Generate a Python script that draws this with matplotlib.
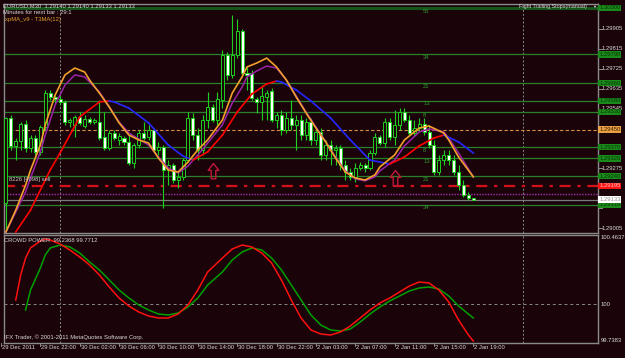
'''
Fun: redraw the EURUSD M30 chart with the crowd power window
'''

import numpy as np
import matplotlib
matplotlib.use('Agg')
import matplotlib.pyplot as plt
from matplotlib.path import Path

## candles, bar 0 = 29 Dec 18:00, bar 96 = 2 Jan 19:00
opens = [1.29109, 1.29118, 1.29502, 1.29376, 1.29398, 1.29475, 1.29367, 1.29412, 1.29349, 1.29462,
	1.29615, 1.29597, 1.29588, 1.29575, 1.29484, 1.29471, 1.29507, 1.29466, 1.29498, 1.29484,
	1.29484, 1.29416, 1.29367, 1.29434, 1.29403, 1.29412, 1.29394, 1.29299, 1.29380, 1.29434,
	1.29416, 1.29448, 1.29358, 1.29371, 1.29267, 1.29290, 1.29222, 1.29236, 1.29312, 1.29502,
	1.29425, 1.29358, 1.29493, 1.29552, 1.29493, 1.29584, 1.29787, 1.29697, 1.29787, 1.29895,
	1.29706, 1.29706, 1.29588, 1.29575, 1.29597, 1.29624, 1.29493, 1.29516, 1.29448, 1.29502,
	1.29471, 1.29493, 1.29425, 1.29484, 1.29403, 1.29439, 1.29335, 1.29380, 1.29358, 1.29367,
	1.29290, 1.29258, 1.29236, 1.29276, 1.29290, 1.29276, 1.29344, 1.29416, 1.29389, 1.29484,
	1.29416, 1.29471, 1.29529, 1.29493, 1.29434, 1.29457, 1.29475, 1.29439, 1.29380, 1.29258,
	1.29312, 1.29335, 1.29312, 1.29258, 1.29199, 1.29154, 1.29140]
highs = [1.29245, 1.29507, 1.29516, 1.29412, 1.29484, 1.29493, 1.29425, 1.29425, 1.29471, 1.29629,
	1.29629, 1.29606, 1.29606, 1.29584, 1.29502, 1.29516, 1.29529, 1.29516, 1.29507, 1.29502,
	1.29584, 1.29529, 1.29448, 1.29448, 1.29434, 1.29421, 1.29425, 1.29389, 1.29448, 1.29484,
	1.29471, 1.29457, 1.29394, 1.29380, 1.29312, 1.29299, 1.29258, 1.29321, 1.29529, 1.29525,
	1.29457, 1.29516, 1.29620, 1.29565, 1.29620, 1.29810, 1.29801, 1.29968, 1.29950, 1.29904,
	1.29733, 1.29719, 1.29597, 1.29651, 1.29629, 1.29638, 1.29529, 1.29538, 1.29529, 1.29584,
	1.29516, 1.29516, 1.29502, 1.29502, 1.29457, 1.29457, 1.29403, 1.29403, 1.29380, 1.29380,
	1.29312, 1.29276, 1.29299, 1.29303, 1.29299, 1.29358, 1.29434, 1.29425, 1.29502, 1.29502,
	1.29538, 1.29547, 1.29547, 1.29516, 1.29493, 1.29502, 1.29502, 1.29471, 1.29403, 1.29335,
	1.29358, 1.29358, 1.29335, 1.29290, 1.29222, 1.29168, 1.29140]
lows = [1.28987, 1.28996, 1.29358, 1.29312, 1.29358, 1.29349, 1.29349, 1.29335, 1.29335, 1.29448,
	1.29584, 1.29565, 1.29561, 1.29471, 1.29462, 1.29416, 1.29471, 1.29457, 1.29475, 1.29475,
	1.29403, 1.29358, 1.29358, 1.29403, 1.29380, 1.29380, 1.29290, 1.29276, 1.29367, 1.29403,
	1.29403, 1.29349, 1.29335, 1.29095, 1.29199, 1.29208, 1.29186, 1.29222, 1.29303, 1.29403,
	1.29312, 1.29335, 1.29457, 1.29484, 1.29471, 1.29547, 1.29674, 1.29683, 1.29773, 1.29697,
	1.29629, 1.29584, 1.29525, 1.29493, 1.29493, 1.29484, 1.29457, 1.29425, 1.29434, 1.29448,
	1.29358, 1.29403, 1.29403, 1.29380, 1.29380, 1.29312, 1.29312, 1.29290, 1.29290, 1.29267,
	1.29222, 1.29222, 1.29213, 1.29267, 1.29258, 1.29267, 1.29335, 1.29380, 1.29371, 1.29403,
	1.29380, 1.29448, 1.29484, 1.29425, 1.29421, 1.29439, 1.29425, 1.29367, 1.29245, 1.29245,
	1.29290, 1.29290, 1.29245, 1.29177, 1.29145, 1.29132, 1.29133]
closes = [1.29222, 1.29502, 1.29376, 1.29398, 1.29475, 1.29367, 1.29412, 1.29349, 1.29462, 1.29615,
	1.29597, 1.29588, 1.29575, 1.29484, 1.29493, 1.29507, 1.29480, 1.29498, 1.29484, 1.29493,
	1.29412, 1.29367, 1.29434, 1.29412, 1.29421, 1.29394, 1.29299, 1.29380, 1.29434, 1.29412,
	1.29448, 1.29358, 1.29371, 1.29267, 1.29290, 1.29222, 1.29236, 1.29312, 1.29502, 1.29425,
	1.29358, 1.29493, 1.29552, 1.29493, 1.29588, 1.29787, 1.29697, 1.29787, 1.29895, 1.29706,
	1.29697, 1.29593, 1.29575, 1.29602, 1.29615, 1.29493, 1.29516, 1.29448, 1.29502, 1.29471,
	1.29493, 1.29425, 1.29484, 1.29403, 1.29439, 1.29335, 1.29380, 1.29358, 1.29367, 1.29290,
	1.29258, 1.29236, 1.29276, 1.29290, 1.29276, 1.29344, 1.29416, 1.29389, 1.29484, 1.29416,
	1.29471, 1.29529, 1.29493, 1.29434, 1.29457, 1.29475, 1.29439, 1.29380, 1.29258, 1.29312,
	1.29335, 1.29312, 1.29258, 1.29199, 1.29154, 1.29141, 1.29133]

## moving averages (bar index, value)
fast_bars = [1, 3, 5, 6, 8, 9, 11, 13, 15, 17, 18, 20, 22, 24, 26, 28, 30, 32, 34, 36,
	38, 40, 42, 45, 47, 49, 50, 52, 54, 56, 58, 60, 62, 64, 66, 68, 70, 72, 74, 76,
	77, 80, 82, 85, 87, 90, 91, 93, 96]
fast_ma = [1.28987, 1.29086, 1.29199, 1.29267, 1.29380, 1.29471, 1.29606, 1.29697, 1.29728, 1.29710,
	1.29674, 1.29615, 1.29552, 1.29480, 1.29425, 1.29403, 1.29389, 1.29321, 1.29267, 1.29258,
	1.29303, 1.29358, 1.29403, 1.29493, 1.29615, 1.29688, 1.29733, 1.29751, 1.29773, 1.29733,
	1.29674, 1.29597, 1.29525, 1.29457, 1.29394, 1.29321, 1.29258, 1.29231, 1.29222, 1.29245,
	1.29281, 1.29335, 1.29403, 1.29457, 1.29466, 1.29434, 1.29403, 1.29326, 1.29236]
mid_ma = [1.28987, 1.29077, 1.29168, 1.29231, 1.29349, 1.29425, 1.29561, 1.29651, 1.29697, 1.29688,
	1.29665, 1.29620, 1.29552, 1.29484, 1.29434, 1.29407, 1.29380, 1.29326, 1.29276, 1.29254,
	1.29285, 1.29335, 1.29389, 1.29471, 1.29570, 1.29642, 1.29688, 1.29715, 1.29737, 1.29728,
	1.29674, 1.29602, 1.29529, 1.29462, 1.29394, 1.29326, 1.29263, 1.29227, 1.29218, 1.29236,
	1.29263, 1.29312, 1.29376, 1.29439, 1.29453, 1.29439, 1.29412, 1.29344, 1.29236]
slow_bars = [3, 6, 10, 12, 16, 20, 22, 23, 26, 30, 34, 37, 39, 42, 45, 48, 51, 54, 56, 57,
	60, 63, 67, 71, 75, 79, 82, 85, 88, 90, 93, 96]
slow_ma = [1.28987, 1.29086, 1.29267, 1.29344, 1.29507, 1.29575, 1.29579, 1.29575, 1.29547, 1.29480,
	1.29380, 1.29330, 1.29312, 1.29349, 1.29425, 1.29529, 1.29611, 1.29656, 1.29669, 1.29665,
	1.29629, 1.29579, 1.29502, 1.29403, 1.29312, 1.29294, 1.29326, 1.29376, 1.29412, 1.29425,
	1.29394, 1.29344]

## trailing stop levels
entry = 1.29450
fib_pips = [55, 34, 21, 13, 8]
stop_line = 1.29195
dot_line = 1.29159
bid = 1.29133
arrow_bars = [43, 80]
arrow_price = [1.29299, 1.29267]
price_ticks = [1.29005, 1.29095, 1.29185, 1.29275, 1.29365, 1.29455, 1.29545, 1.29635, 1.29725, 1.29815, 1.29905]

## crowd power window
cp_bars = [3, 4, 5, 6, 8, 9, 10, 12, 14, 16, 18, 20, 22, 24, 26, 28, 30, 32, 34, 36,
	38, 40, 42, 45, 47, 49, 51, 53, 55, 57, 59, 61, 63, 65, 67, 69, 71, 73, 75, 77,
	79, 81, 83, 85, 87, 89, 91, 93, 95, 96]
cp_fast = [100.0271, 100.1950, 100.3092, 100.3764, 100.4234, 100.4368, 100.4301, 100.4032, 100.3630, 100.3159,
	100.2622, 100.1950, 100.1144, 100.0405, 99.9868, 99.9465, 99.9196, 99.9062, 99.9062, 99.9331,
	99.9935, 100.0943, 100.2152, 100.3092, 100.3697, 100.3965, 100.3831, 100.3428, 100.2756, 100.1614,
	100.0271, 99.9062, 99.8256, 99.7987, 99.7920, 99.8122, 99.8525, 99.9062, 99.9599, 100.0069,
	100.0405, 100.0808, 100.1211, 100.1480, 100.1413, 100.0943, 100.0137, 99.8928, 99.7920, 99.7517]
cp_slow = [99.9599, 100.0943, 100.2420, 100.3294, 100.3764, 100.3965, 100.3831, 100.3428, 100.2823, 100.2286,
	100.1614, 100.0943, 100.0405, 99.9935, 99.9599, 99.9331, 99.9264, 99.9398, 99.9801, 100.0405,
	100.1279, 100.2152, 100.2958, 100.3495, 100.3764, 100.3630, 100.3092, 100.2286, 100.1279, 100.0271,
	99.9264, 99.8592, 99.8256, 99.8189, 99.8323, 99.8793, 99.9331, 99.9801, 100.0204, 100.0540,
	100.0876, 100.1077, 100.1144, 100.1010, 100.0540, 99.9868, 99.9331, 99.9062]
cp_top, cp_bottom = 100.4637, 99.7383

time_bars = [0, 8, 16, 24, 32, 40, 48, 56, 64, 72, 80, 88, 96]
time_labels = ['29 Dec 2011', '29 Dec 22:00', '30 Dec 02:00', '30 Dec 06:00', '30 Dec 10:00',
	'30 Dec 14:00', '30 Dec 18:00', '30 Dec 22:00', '2 Jan 03:00', '2 Jan 07:00',
	'2 Jan 11:00', '2 Jan 15:00', '2 Jan 19:00']
day_breaks = [12, 106]

BG = '#1a0409'
GREEN = '#1fd01f'
LEVEL = '#2a7f2a'
FRAME = '#8a8a8a'
TXT = '#d8d8d8'
FS = 4.2
W, H = 625.0, 358.0

plt.rcParams['font.family'] = ['Liberation Sans', 'DejaVu Sans']


def box(l, t, r, b):
	return [l / W, 1 - b / H, (r - l) / W, (b - t) / H]


def style_axes(ax):
	ax.set_facecolor(BG)
	for s in ax.spines.values():
		s.set_color(FRAME)
		s.set_linewidth(1)
	ax.set_xticks([])
	ax.set_yticks([])


def up_arrow():
	verts = [(0, 0), (0.35, -0.45), (0.15, -0.45), (0.15, -1.0), (-0.15, -1.0),
		(-0.15, -0.45), (-0.35, -0.45), (0, 0)]
	return Path(verts, closed=True)


def price_box(ax, y, text, fc, tc):
	ax.text(1.002, y, text, transform=ax.get_yaxis_transform(), fontsize=FS, color=tc,
		ha='left', va='center', clip_on=False, zorder=30,
		bbox=dict(boxstyle='square,pad=0.12', fc=fc, ec='none'))


def main():
	fig = plt.figure(figsize=(6.25, 3.58), dpi=100, facecolor=BG)
	ax = fig.add_axes(box(4, 4, 598, 233))
	ax2 = fig.add_axes(box(4, 235, 598, 343))
	for a in (ax, ax2):
		style_axes(a)
		a.set_xlim(0.61, 121.34)
		for d in day_breaks:
			a.axvline(d, color=FRAME, lw=0.7, ls=(0, (2, 2)), zorder=1)
	ax.set_ylim(1.289824, 1.300175)
	ax2.set_ylim(cp_bottom, cp_top)

	## levels
	boxed = [entry, stop_line, bid]
	for n in fib_pips:
		for sign in (1, -1):
			if sign < 0 and n == 55:
				continue
			lv = entry + sign * n * 0.0001
			lw = 2.2 if n == 55 else 0.9
			col = '#16561a' if n == 55 else LEVEL
			ax.axhline(lv, color=col, lw=lw, zorder=1)
			ax.text(85.8, lv - 0.00003, str(n), color='#2f9a2f', fontsize=FS, va='top', zorder=2)
			price_box(ax, lv, '%.5f' % lv, '#1a8a1a', '#063806')
			boxed.append(lv)
	ax.axhline(entry, color='#d88c48', lw=0.8, ls=(0, (3, 2)), zorder=1)
	ax.axhline(stop_line, color='#d4101a', lw=1.6, ls=(0, (5, 3, 1.5, 3)), zorder=1)
	ax.axhline(dot_line, color='#a82cb0', lw=1.0, ls=(0, (1, 1)), zorder=1)
	ax.axhline(bid, color='#7c7c7c', lw=0.9, zorder=1)

	## candles
	x = np.arange(len(closes))
	o, h, l, c = map(np.array, (opens, highs, lows, closes))
	ax.vlines(x, l, h, color=GREEN, lw=0.8, zorder=3)
	up = c >= o
	ax.bar(x[up], c[up] - o[up], bottom=o[up], width=0.62, color=BG, edgecolor=GREEN, lw=0.7, zorder=4)
	ax.bar(x[~up], o[~up] - c[~up], bottom=c[~up], width=0.62, color='white', edgecolor=GREEN, lw=0.7, zorder=4)

	## averages
	ax.plot(fast_bars, mid_ma, color='#9a22a8', lw=1.1, zorder=5)
	ax.plot(fast_bars, fast_ma, color='#f2a02c', lw=1.2, zorder=6)
	for i in range(len(slow_bars) - 1):
		col = 'red' if slow_ma[i + 1] > slow_ma[i] else '#2626ff'
		ax.plot(slow_bars[i:i + 2], slow_ma[i:i + 2], color=col, lw=1.2, zorder=5)
	ax.plot(arrow_bars, arrow_price, ls='none', marker=up_arrow(), ms=22, mfc='none',
		mec='#c0183a', mew=1.0, zorder=7)

	## right price scale, labels under a price box are hidden as in the terminal
	tr = ax.get_yaxis_transform()
	for p in price_ticks:
		ax.plot([1.0, 1.006], [p, p], transform=tr, color=FRAME, lw=0.7, clip_on=False)
		if any(abs(b - p) < 0.0001 or 0 <= b - p < 0.00016 for b in boxed):
			continue
		ax.text(1.006, p, '%.5f' % p, transform=tr, fontsize=FS, color=TXT, va='center', clip_on=False)
	price_box(ax, entry, '%.5f' % entry, '#e8a044', '#3a2000')
	price_box(ax, stop_line, '%.5f' % stop_line, '#ff1414', '#ffc0c0')
	price_box(ax, bid, '%.5f' % bid, 'white', '#909090')

	## crowd power
	ax2.axhline(100, color=FRAME, lw=0.7, ls=(0, (3, 3)), zorder=1)
	ax2.plot(cp_bars[2:], cp_slow, color='#00a000', lw=1.1, zorder=3)
	ax2.plot(cp_bars, cp_fast, color='#ff1010', lw=1.1, zorder=4)
	tr2 = ax2.get_yaxis_transform()
	ax2.text(1.005, cp_top, '%.4f' % cp_top, transform=tr2, fontsize=FS, color=TXT, va='top', clip_on=False)
	ax2.text(1.005, 100, '100', transform=tr2, fontsize=FS, color=TXT, va='center', clip_on=False)
	ax2.text(1.005, cp_bottom, '%.4f' % cp_bottom, transform=tr2, fontsize=FS, color=TXT, va='bottom', clip_on=False)

	## time axis
	trx = ax2.get_xaxis_transform()
	for b, lab in zip(time_bars, time_labels):
		ax2.plot([b, b], [0, -0.03], transform=trx, color=FRAME, lw=0.7, clip_on=False)
		ax2.text(b + 0.2, -0.02, lab, transform=trx, fontsize=FS, color=TXT, va='top', ha='left', clip_on=False)

	## captions
	fig.text(3 / W, 1 - 6 / H, 'EURUSD,M30  1.29140 1.29140 1.29133 1.29133', fontsize=FS, color=TXT, va='center')
	fig.text(3 / W, 1 - 13 / H, 'Minutes for next bar : 29:1', fontsize=FS, color=TXT, va='center')
	fig.text(5 / W, 1 - 19.5 / H, 'xpMA_v9 - T3MA(12)', fontsize=FS, color='#e0a030', va='center')
	fig.text(519 / W, 1 - 6.5 / H, 'Fight Trailing Stops(manual)', fontsize=3.9, color=TXT, va='center')
	fig.text(592 / W, 1 - 6.5 / H, '\u25bc', fontsize=3.0, color=TXT, va='center')
	fig.text(9 / W, 1 - 179 / H, '8226 [4098] sell', fontsize=FS, color='#c8c8c8', va='center')
	fig.text(4 / W, 1 - 240 / H, 'CROWD POWER  99.2368 99.7712', fontsize=FS, color=TXT, va='center')
	fig.text(4 / W, 1 - 337 / H, 'IFX Trader, \u00a9 2001-2011 MetaQuotes Software Corp.', fontsize=FS, color=TXT, va='center')

	fig.savefig('out.png', dpi=100, facecolor=BG)


if __name__ == '__main__':
	main()
